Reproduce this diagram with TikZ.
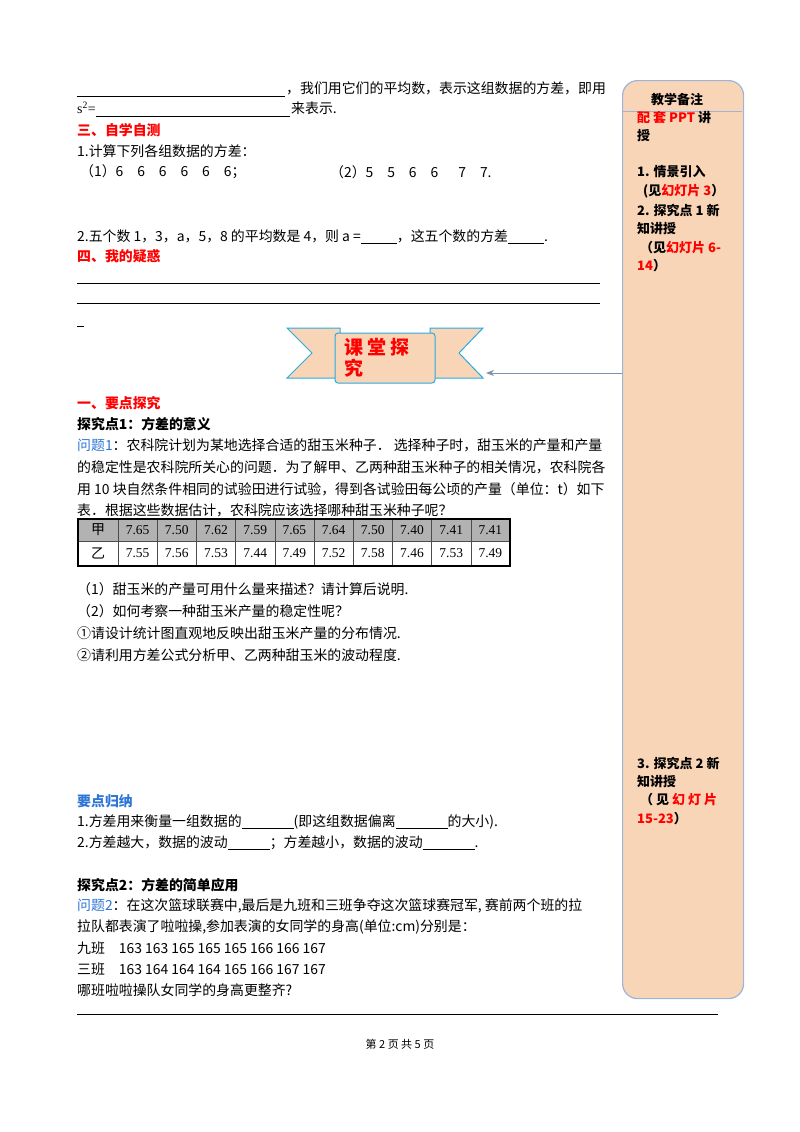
\documentclass[tikz,border=0pt]{standalone}
\usepackage{fontspec}
\setmainfont{Noto Sans CJK SC}
\newfontfamily\tm{Liberation Serif}
\usetikzlibrary{arrows.meta}
\definecolor{peach}{HTML}{F9D5B8}
\definecolor{boxline}{HTML}{9DB4D6}
\definecolor{cyanb}{HTML}{29ABE2}
\definecolor{qblue}{HTML}{2E75D6}
\tikzset{x=1pt,y=-1pt,
 t/.style={anchor=west,inner sep=0pt,font=\fontsize{13.9}{15}\selectfont},
 rt/.style={t,text=red,font=\fontsize{13.9}{15}\selectfont\bfseries},
 bt/.style={t,font=\fontsize{13.9}{15}\selectfont\bfseries},
 side/.style={anchor=west,inner sep=0pt,font=\fontsize{13}{15}\selectfont\bfseries},
 uline/.style={line width=0.6pt},
 cell/.style={draw=black!70,minimum height=22pt,inner sep=0pt,font=\tm\fontsize{13.5}{15}\selectfont}}
\begin{document}
\begin{tikzpicture}
\useasboundingbox (0,0) rectangle (800,1132);
% side box
\node[draw=boxline,line width=1.2pt,fill=peach,rounded corners=15pt,minimum width=121pt,minimum height=918pt,anchor=north west] (sbox) at (622,80) {};
\draw[boxline,line width=1pt] (622,111) -- (742,111);
\node[side] (s1) at (651,100) {教学备注};
\node[side] (s2) at (637,118) {\textcolor{red}{配 套 PPT} 讲};
\node[side] (s3) at (637,136) {授};
\node[side] (s4) at (637,172) {1. 情景引入};
\node[side] (s5) at (643,191) {(见\textcolor{red}{幻灯片 3}）};
\node[side] (s6) at (637,210) {2. 探究点 1 新};
\node[side] (s7) at (637,229) {知讲授};
\node[side] (s8) at (640,248) {（见\textcolor{red}{幻灯片 6-}};
\node[side] (s9) at (637,266) {\textcolor{red}{14}）};
\node[side] (s10) at (637,763) {3. 探究点 2 新};
\node[side] (s11) at (637,782) {知讲授};
\node[side] (s12) at (640,800) {（ 见 \textcolor{red}{幻 灯 片}};
\node[side] (s13) at (637,819) {\textcolor{red}{15-23}）};
% top text
\draw[uline] (77,96) -- (285,96);
\node[t] (l1) at (286,88) {，我们用它们的平均数，表示这组数据的方差，即用};
\node[t] (l2) at (77,108) {{\tm s\textsuperscript{2}=}};
\draw[uline] (96,116) -- (290,116);
\node[t] (l2b) at (291,108) {来表示.};
\node[rt] (h3) at (77,130) {三、自学自测};
\node[t] (q1) at (77,151) {1.计算下列各组数据的方差：};
\node[t] (q1a) at (80,172) {（1）6\quad 6\quad 6\quad 6\quad 6\quad 6；};
\node[t] (q1b) at (330,172) {（2）5\quad 5\quad 6\quad 6\quad\ \ 7\quad 7.};
\node[t] (q2) at (77,237) {2.五个数 1，3，a，5，8 的平均数是 4，则 a =\underline{\hspace{36pt}}，这五个数的方差\underline{\hspace{36pt}}.};
\node[rt] (h4) at (77,256) {四、我的疑惑};
\draw[uline] (77,283) -- (600,283);
\draw[uline] (77,303) -- (600,303);
\draw[uline] (77,326) -- (84,326);
% banner
\draw[cyanb,line width=1pt,fill=peach] (287,328) -- (340,328) -- (340,378) -- (287,378) -- (312,353) -- cycle;
\draw[cyanb,line width=1pt,fill=peach] (483,328) -- (430,328) -- (430,378) -- (483,378) -- (459,353) -- cycle;
\draw[cyanb,line width=1pt,fill=peach,rounded corners=3pt] (335,333) rectangle (435,383);
\node[anchor=north west,inner sep=0pt,text=red,align=left,font=\fontsize{19}{21}\selectfont\bfseries] (ban) at (344,338) {课 堂 探\\究};
\coordinate (bt) at (486,373);
\draw[-{Stealth[length=8pt]},boxline!80!black,line width=0.9pt] (sbox.west |- bt) -- (bt);
% section 1
\node[rt] (h1) at (77,403) {一、要点探究};
\node[bt] (p1) at (77,424) {探究点1：方差的意义};
\node[t] (w1) at (77,445) {\textcolor{qblue}{问题1}：农科院计划为某地选择合适的甜玉米种子．\ 选择种子时，甜玉米的产量和产量};
\node[t] (w2) at (77,467) {的稳定性是农科院所关心的问题．为了解甲、乙两种甜玉米种子的相关情况，农科院各};
\node[t] (w3) at (77,489) {用 10 块自然条件相同的试验田进行试验，得到各试验田每公顷的产量（单位：t）如下};
\node[t] (w4) at (77,510) {表．根据这些数据估计，农科院应该选择哪种甜玉米种子呢？};
% table
\fill[black!30] (78,519) rectangle (510,541);
\foreach \v [count=\i] in {7.65,7.50,7.62,7.59,7.65,7.64,7.50,7.40,7.41,7.41}{
 \node[cell,minimum width=39.2pt] (a\i) at ({118+39.2*(\i-0.5)},530) {\v};}
\foreach \v [count=\i] in {7.55,7.56,7.53,7.44,7.49,7.52,7.58,7.46,7.53,7.49}{
 \node[cell,minimum width=39.2pt,minimum height=25pt] (b\i) at ({118+39.2*(\i-0.5)},553.5) {\v};}
\node[cell,minimum width=40pt,font=\rmfamily\fontsize{14}{15}\selectfont] (ja) at (98,530) {甲};
\node[cell,minimum width=40pt,minimum height=25pt,font=\rmfamily\fontsize{14}{15}\selectfont] (yi) at (98,553.5) {乙};
\draw[line width=1.3pt] (78,519) rectangle (510,566);
\node[t] (r1) at (77,589) {（1）甜玉米的产量可用什么量来描述？请计算后说明.};
\node[t] (r2) at (77,611) {（2）如何考察一种甜玉米产量的稳定性呢？};
\node[t] (r3) at (77,633) {①请设计统计图直观地反映出甜玉米产量的分布情况.};
\node[t] (r4) at (77,655) {②请利用方差公式分析甲、乙两种甜玉米的波动程度.};
\node[t,text=qblue,font=\fontsize{13.9}{15}\selectfont\bfseries] (gn) at (77,801) {要点归纳};
\node[t] (g1) at (77,822) {1.方差用来衡量一组数据的\underline{\hspace{52pt}}(即这组数据偏离\underline{\hspace{52pt}}的大小).};
\node[t] (g2) at (77,843) {2.方差越大，数据的波动\underline{\hspace{42pt}}；方差越小，数据的波动\underline{\hspace{52pt}}.};
\node[bt] (p2) at (77,885) {探究点2：方差的简单应用};
\node[t] (v1) at (77,906) {\textcolor{qblue}{问题2}：在这次篮球联赛中,最后是九班和三班争夺这次篮球赛冠军, 赛前两个班的拉};
\node[t] (v2) at (77,927) {拉队都表演了啦啦操,参加表演的女同学的身高(单位:cm)分别是：};
\node[t] (v3) at (77,948) {九班\quad 163 163 165 165 165 166 166 167};
\node[t] (v4) at (77,969) {三班\quad 163 164 164 164 165 166 167 167};
\node[t] (v5) at (77,990) {哪班啦啦操队女同学的身高更整齐?};
\draw[line width=1pt] (77,1014) -- (718,1014);
\node[inner sep=0pt,font=\fontsize{11}{13}\selectfont] (pg) at (400,1044) {第 2 页 共 5 页};
\end{tikzpicture}
\end{document}
